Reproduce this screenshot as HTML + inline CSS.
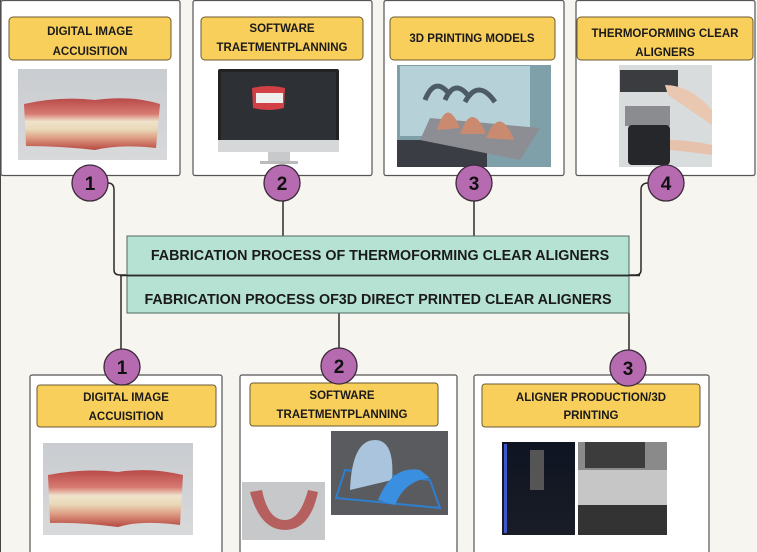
<!DOCTYPE html>
<html><head><meta charset="utf-8"><style>
html,body{margin:0;padding:0;background:#f6f5ef;}
svg{display:block;font-family:"Liberation Sans",sans-serif;font-weight:bold;}
</style></head><body>
<svg width="757" height="552" viewBox="0 0 757 552" xmlns="http://www.w3.org/2000/svg">
<defs>
<linearGradient id="gray" x1="0" y1="0" x2="0" y2="1"><stop offset="0" stop-color="#c9ccd0"/><stop offset="1" stop-color="#d8d9db"/></linearGradient>
<linearGradient id="gum" x1="0" y1="0" x2="0" y2="1"><stop offset="0" stop-color="#b84a48"/><stop offset="0.3" stop-color="#d77a72"/><stop offset="0.45" stop-color="#efe3cc"/><stop offset="0.6" stop-color="#e9d9b8"/><stop offset="0.75" stop-color="#e0a48a"/><stop offset="1" stop-color="#b7473f"/></linearGradient>
<linearGradient id="pr" x1="0" y1="0" x2="0" y2="1"><stop offset="0" stop-color="#0e1422"/><stop offset="1" stop-color="#1a1d26"/></linearGradient>
</defs>
<rect width="757" height="552" fill="#f6f5ef"/>
<line x1="0.5" y1="0" x2="0.5" y2="552" stroke="#444" stroke-width="1"/>

<!-- top boxes -->
<g fill="#fff" stroke="#555" stroke-width="1.2">
<rect x="1" y="0.5" width="179" height="175" rx="2"/>
<rect x="193" y="0.5" width="179" height="175" rx="2"/>
<rect x="384" y="0.5" width="180" height="175" rx="2"/>
<rect x="576" y="0.5" width="179" height="175" rx="2"/>
</g>
<g fill="#f9cf5c" stroke="#6a5a30" stroke-width="1">
<rect x="9" y="17" width="162" height="43" rx="4"/>
<rect x="201" y="17" width="162" height="43" rx="4"/>
<rect x="390" y="17" width="165" height="43" rx="4"/>
<rect x="577" y="17" width="176" height="43" rx="4"/>
</g>
<g font-size="11.5" fill="#1a1a1a" text-anchor="middle">
<text x="90" y="35">DIGITAL IMAGE</text><text x="90" y="55">ACCUISITION</text>
<text x="282" y="32">SOFTWARE</text><text x="282" y="51">TRAETMENTPLANNING</text>
<text x="472" y="42">3D PRINTING MODELS</text>
<text x="665" y="37">THERMOFORMING CLEAR</text><text x="665" y="56">ALIGNERS</text>
</g>
<!-- top images -->
<rect x="18" y="69" width="149" height="91" fill="url(#gray)"/>
<path d="M24 104 Q60 96 95 100 Q130 95 160 104 L156 148 Q120 144 95 150 Q60 146 26 146 Z" fill="url(#gum)"/>
<rect x="218" y="69" width="121" height="83" rx="2" fill="#222"/>
<rect x="221" y="72" width="115" height="68" fill="#2d3034"/>
<path d="M252 88 Q268 84 285 88 L284 108 Q268 112 253 108Z" fill="#d04045"/>
<rect x="256" y="93" width="27" height="10" fill="#eee"/>
<rect x="218" y="140" width="121" height="12" fill="#d5d7d9"/>
<rect x="268" y="152" width="22" height="9" fill="#c7c9cb"/>
<rect x="260" y="161" width="38" height="3" fill="#bbb"/>
<rect x="397" y="65" width="154" height="102" fill="#7fa0a8"/>
<rect x="400" y="66" width="130" height="70" fill="#b6d2d8"/>
<rect x="397" y="140" width="90" height="27" fill="#3a3d44"/>
<path d="M430 118 L540 128 L520 160 L420 140Z" fill="#8d8e93"/>
<g fill="#c98a70"><path d="M437 130 Q447 96 460 128Z"/><path d="M460 134 Q472 100 486 134Z"/><path d="M486 138 Q500 104 514 140Z"/></g>
<g fill="none" stroke="#4c5b66" stroke-width="5"><path d="M425 100 Q435 75 450 95"/><path d="M445 100 Q455 77 470 98"/><path d="M465 102 Q478 78 495 102"/></g>
<rect x="619" y="65" width="93" height="102" fill="#d9dcdd"/>
<rect x="620" y="70" width="58" height="22" fill="#3a3c40"/>
<rect x="625" y="106" width="45" height="20" fill="#8a8c90"/>
<rect x="628" y="125" width="42" height="40" rx="4" fill="#25272b"/>
<path d="M665 85 Q690 85 712 110 L712 125 Q690 110 668 95Z" fill="#e9c7b1"/>
<path d="M670 140 Q690 140 712 145 L712 155 Q690 152 670 150Z" fill="#e6c2ac"/>

<!-- top circles -->
<g fill="#b66bb0" stroke="#3b2a3a" stroke-width="1.3">
<circle cx="90" cy="183" r="18"/><circle cx="282" cy="183" r="18"/><circle cx="474" cy="183" r="18"/><circle cx="666" cy="183" r="18"/>
</g>
<g font-size="19" fill="#111" text-anchor="middle">
<text x="90" y="190">1</text><text x="282" y="190">2</text><text x="474" y="190">3</text><text x="666" y="190">4</text>
</g>

<!-- connectors -->
<g fill="none" stroke="#2b2b2b" stroke-width="1.5">
<path d="M108 183 Q114 183 114 190 L114 270 Q114 275 120 275 L640 275"/>
<path d="M648 183 Q641 183 641 190 L641 270 Q641 275 636 275"/>
<line x1="283" y1="201" x2="283" y2="236"/>
<line x1="474" y1="201" x2="474" y2="236"/>
<line x1="121" y1="276" x2="121" y2="349"/>
<line x1="339" y1="313" x2="339" y2="348"/>
<line x1="629" y1="313" x2="629" y2="350"/>
</g>

<!-- green boxes -->
<g fill="#b6e2d3" stroke="#506a62" stroke-width="1">
<rect x="127" y="236" width="502" height="39"/>
<rect x="127" y="276" width="502" height="37"/>
</g>
<line x1="120" y1="275.5" x2="640" y2="275.5" stroke="#2b2b2b" stroke-width="1.5"/>
<g font-size="14.3" fill="#1a1a1a" text-anchor="middle">
<text x="380" y="260">FABRICATION PROCESS OF THERMOFORMING CLEAR ALIGNERS</text>
<text x="378" y="304">FABRICATION PROCESS OF3D DIRECT PRINTED CLEAR ALIGNERS</text>
</g>

<!-- bottom boxes -->
<g fill="#fff" stroke="#555" stroke-width="1.2">
<rect x="30" y="375" width="192" height="178" rx="2"/>
<rect x="240" y="375" width="217" height="178" rx="2"/>
<rect x="474" y="375" width="235" height="178" rx="2"/>
</g>
<g fill="#f9cf5c" stroke="#6a5a30" stroke-width="1">
<rect x="37" y="385" width="179" height="42" rx="3"/>
<rect x="250" y="383" width="188" height="43" rx="3"/>
<rect x="482" y="384" width="218" height="43" rx="3"/>
</g>
<g font-size="11.5" fill="#1a1a1a" text-anchor="middle">
<text x="126" y="401">DIGITAL IMAGE</text><text x="126" y="420">ACCUISITION</text>
<text x="342" y="399">SOFTWARE</text><text x="342" y="418">TRAETMENTPLANNING</text>
<text x="591" y="401">ALIGNER PRODUCTION/3D</text><text x="591" y="419">PRINTING</text>
</g>
<!-- bottom images -->
<rect x="43" y="443" width="150" height="92" fill="url(#gray)"/>
<path d="M48 475 Q85 468 118 472 Q150 467 183 475 L180 525 Q140 520 118 527 Q80 522 50 523 Z" fill="url(#gum)"/>
<rect x="242" y="482" width="83" height="58" fill="#c6c8ca"/>
<path d="M250 492 Q260 530 285 530 Q310 530 318 492 L308 490 Q300 520 285 520 Q268 520 262 490Z" fill="#b5605e"/>
<rect x="331" y="431" width="117" height="84" fill="#5a5b5e"/>
<path d="M336 498 L440 508 L430 480 L345 470Z" fill="none" stroke="#2e7fd0" stroke-width="2"/>
<path d="M350 490 Q352 440 375 440 Q395 440 392 480Z" fill="#a9c4dc"/>
<path d="M378 500 Q392 465 420 470 L430 478 Q405 480 395 505Z" fill="#3a8fe0"/>
<rect x="502" y="442" width="73" height="93" fill="url(#pr)"/>
<rect x="504" y="444" width="3" height="89" fill="#3e58c8"/>
<rect x="530" y="450" width="14" height="40" fill="#555"/>
<rect x="578" y="442" width="89" height="93" fill="#8a8a8a"/>
<rect x="578" y="470" width="89" height="35" fill="#c6c6c6"/>
<rect x="585" y="442" width="60" height="26" fill="#3c3c3c"/>
<rect x="578" y="505" width="89" height="30" fill="#333"/>

<!-- bottom circles -->
<g fill="#b66bb0" stroke="#3b2a3a" stroke-width="1.3">
<circle cx="122" cy="367" r="18"/><circle cx="339" cy="366" r="18"/><circle cx="628" cy="368" r="18"/>
</g>
<g font-size="19" fill="#111" text-anchor="middle">
<text x="122" y="374">1</text><text x="339" y="373">2</text><text x="628" y="375">3</text>
</g>
</svg>
</body></html>
